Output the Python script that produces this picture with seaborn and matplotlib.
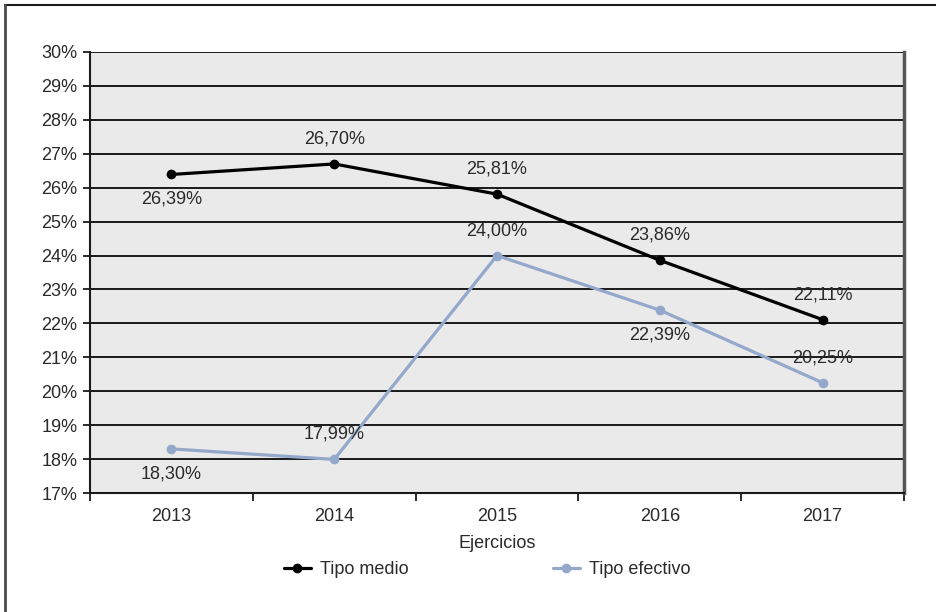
import matplotlib
matplotlib.use("Agg")
import matplotlib.pyplot as plt
import matplotlib.lines as mlines
import seaborn as sns
import pandas as pd
import numpy as np

# Data
years = ["2013", "2014", "2015", "2016", "2017"]
tipo_medio = [26.39, 26.70, 25.81, 23.86, 22.11]
tipo_efectivo = [18.30, 17.99, 24.00, 22.39, 20.25]
series_names = ["Tipo medio", "Tipo efectivo"]
y_ticks = list(range(17, 31))

# label placement: +1 above the point, -1 below
medio_pos = [-1, 1, 1, 1, 1]
efectivo_pos = [-1, 1, 1, -1, 1]

colors = {"Tipo medio": "#000000", "Tipo efectivo": "#93A8CA"}
text_color = "#2a2a2a"

sns.set_theme(style="white")
plt.rcParams["font.family"] = ["Liberation Sans", "DejaVu Sans"]
plt.rcParams["font.size"] = 13

df = pd.DataFrame({
    "x": list(range(len(years))) * 2,
    "valor": tipo_medio + tipo_efectivo,
    "serie": [series_names[0]] * len(years) + [series_names[1]] * len(years),
})

fig = plt.figure(figsize=(9.36, 6.12), dpi=100)
ax = fig.add_axes([90 / 936, 1 - 493 / 612, (904 - 90) / 936, (493 - 52) / 612])
ax.set_facecolor("#EAEAEA")

sns.lineplot(data=df, x="x", y="valor", hue="serie", palette=colors,
             marker="o", markersize=7, markeredgewidth=0, linewidth=2.3,
             ax=ax, legend=False, zorder=3)

# horizontal grid lines
for v in y_ticks[1:]:
    ax.axhline(v, color="#1a1a1a", linewidth=1.4, zorder=1)

ax.set_ylim(17, 30)
ax.set_xlim(-0.5, len(years) - 0.5)
ax.set_yticks(y_ticks)
ax.set_yticklabels([f"{v}%" for v in y_ticks], color=text_color, fontsize=13)

# category boundaries carry the tick marks, centres carry the labels
ax.set_xticks(np.arange(-0.5, len(years)), minor=False)
ax.set_xticklabels([""] * (len(years) + 1))
ax.set_xticks(np.arange(len(years)), minor=True)
ax.set_xticklabels(years, minor=True, color=text_color, fontsize=13)
ax.tick_params(axis="x", which="major", direction="out", length=6, width=1.3,
               color="#1a1a1a", bottom=True)
ax.tick_params(axis="x", which="minor", length=0, pad=11)
ax.tick_params(axis="y", direction="out", length=5, width=1.3, color="#1a1a1a",
               left=True, pad=4)

ax.set_xlabel("Ejercicios", color=text_color, fontsize=13, labelpad=7)
ax.set_ylabel("")

for side in ["left", "right", "bottom"]:
    ax.spines[side].set_visible(True)
    ax.spines[side].set_color("#1a1a1a")
    ax.spines[side].set_linewidth(1.5)
ax.spines["right"].set_color("#555555")
ax.spines["right"].set_linewidth(2.5)
ax.spines["top"].set_visible(False)

def fmt(v):
    return f"{v:.2f}%".replace(".", ",")

for vals, pos in [(tipo_medio, medio_pos), (tipo_efectivo, efectivo_pos)]:
    for i, (v, p) in enumerate(zip(vals, pos)):
        ax.annotate(fmt(v), (i, v), xytext=(0, 18 * p), textcoords="offset points",
                    ha="center", va="center", fontsize=13, color=text_color,
                    zorder=5)

handles = [
    mlines.Line2D([], [], color=colors[n], marker="o", markersize=7,
                  markeredgewidth=0, linewidth=2.3) for n in series_names
]
fig.legend(handles, series_names, loc="center", bbox_to_anchor=(487 / 936, 1 - 570 / 612),
           ncol=2, frameon=False, handlelength=1.5, handletextpad=0.5,
           columnspacing=8.0, fontsize=13, labelcolor=text_color)

# frame lines along top and left edges
fig.add_artist(mlines.Line2D([5 / 936, 1], [1 - 5 / 612, 1 - 5 / 612],
                             color="#1a1a1a", linewidth=1.5, transform=fig.transFigure))
fig.add_artist(mlines.Line2D([5 / 936, 5 / 936], [0, 1 - 5 / 612],
                             color="#4a4a4a", linewidth=2.0, transform=fig.transFigure))

fig.savefig("out.png", dpi=100)
